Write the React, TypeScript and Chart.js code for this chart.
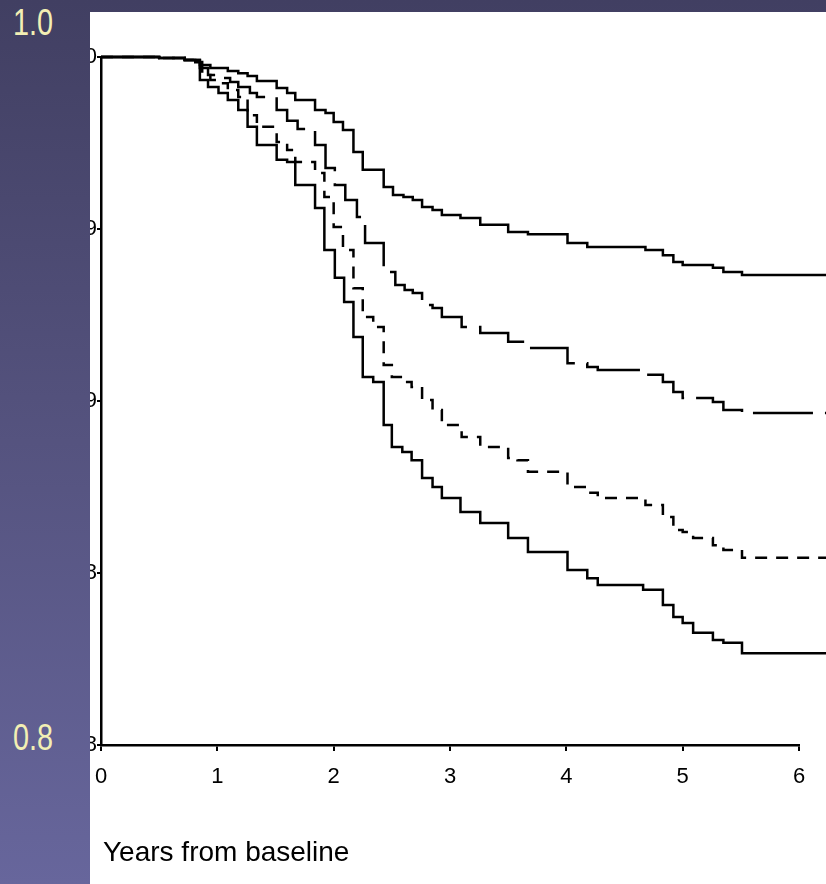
import React, { useEffect, useRef } from "react";
import { Chart, registerables } from "chart.js";

Chart.register(...registerables);

// ---- data (years from baseline, survival proportion) ----
const curve1Years = [0, 0.5, 0.72, 0.81, 0.85, 0.94, 1.09, 1.18, 1.26, 1.34, 1.51, 1.6, 1.67, 1.84, 1.93, 2.0, 2.08, 2.17, 2.25, 2.43, 2.51, 2.6, 2.68, 2.76, 2.85, 2.93, 3.09, 3.26, 3.5, 3.67, 4.01, 4.18, 4.68, 4.83, 4.92, 5.0, 5.26, 5.35, 5.51, 6.3];
const curve1Survival = [1, 0.9997, 0.9991, 0.9985, 0.9977, 0.9968, 0.9959, 0.9953, 0.9945, 0.993, 0.991, 0.9895, 0.9875, 0.9846, 0.9837, 0.9811, 0.9788, 0.9724, 0.9672, 0.9622, 0.9599, 0.9593, 0.9584, 0.9564, 0.9555, 0.9541, 0.9532, 0.9512, 0.9491, 0.9485, 0.9459, 0.9448, 0.9439, 0.9424, 0.9404, 0.9395, 0.9387, 0.9375, 0.9366, 0.9366];

const curve2Years = [0, 0.5, 0.72, 0.85, 0.92, 1.04, 1.11, 1.18, 1.28, 1.34, 1.51, 1.6, 1.69, 1.84, 1.93, 2.01, 2.1, 2.2, 2.27, 2.43, 2.53, 2.61, 2.68, 2.76, 2.85, 2.93, 3.1, 3.26, 3.5, 3.67, 4.01, 4.18, 4.27, 4.68, 4.83, 4.92, 5.0, 5.26, 5.35, 5.51, 6.3];
const curve2Survival = [1, 0.9997, 0.9991, 0.9968, 0.9948, 0.9939, 0.9927, 0.9913, 0.9895, 0.9884, 0.9846, 0.9815, 0.9791, 0.9744, 0.9677, 0.9628, 0.9584, 0.9535, 0.9459, 0.9375, 0.9337, 0.9323, 0.9314, 0.9279, 0.927, 0.9244, 0.9215, 0.9198, 0.9172, 0.9154, 0.911, 0.9099, 0.909, 0.9076, 0.9055, 0.9026, 0.9009, 0.8997, 0.8974, 0.8965, 0.8965];

const curve3Years = [0, 0.5, 0.72, 0.87, 0.94, 1.02, 1.09, 1.18, 1.26, 1.34, 1.51, 1.6, 1.67, 1.84, 1.92, 2.0, 2.08, 2.17, 2.25, 2.34, 2.43, 2.5, 2.59, 2.67, 2.76, 2.85, 2.93, 3.1, 3.26, 3.5, 3.58, 3.67, 4.01, 4.18, 4.27, 4.68, 4.83, 4.92, 5.0, 5.09, 5.26, 5.35, 5.51, 6.3];
const curve3Survival = [1, 0.9997, 0.9991, 0.9948, 0.9933, 0.9924, 0.9904, 0.9884, 0.9831, 0.9797, 0.9753, 0.973, 0.9695, 0.9663, 0.9593, 0.9506, 0.9439, 0.9328, 0.9244, 0.9215, 0.9105, 0.907, 0.9055, 0.9041, 0.9003, 0.8974, 0.893, 0.8895, 0.8866, 0.8834, 0.8828, 0.8794, 0.875, 0.8733, 0.8718, 0.8698, 0.8663, 0.8625, 0.8619, 0.8602, 0.8581, 0.8567, 0.8544, 0.8544];

const curve4Years = [0, 0.5, 0.72, 0.85, 0.92, 1.01, 1.09, 1.18, 1.26, 1.34, 1.51, 1.6, 1.67, 1.84, 1.92, 2.01, 2.09, 2.17, 2.25, 2.34, 2.43, 2.5, 2.59, 2.67, 2.76, 2.85, 2.93, 3.09, 3.26, 3.5, 3.67, 4.01, 4.18, 4.27, 4.66, 4.83, 4.92, 5.0, 5.09, 5.26, 5.35, 5.51, 6.3];
const curve4Survival = [1, 0.9997, 0.9991, 0.9933, 0.9913, 0.9895, 0.9875, 0.9846, 0.9797, 0.9744, 0.9701, 0.9695, 0.9628, 0.9561, 0.9439, 0.9358, 0.9288, 0.9186, 0.907, 0.9055, 0.893, 0.8866, 0.8852, 0.8828, 0.8776, 0.875, 0.8718, 0.8677, 0.8645, 0.8602, 0.8561, 0.8509, 0.8485, 0.8465, 0.8451, 0.8407, 0.8372, 0.8355, 0.8326, 0.8305, 0.8297, 0.8267, 0.8267];

const xTickLabels = ["0", "1", "2", "3", "4", "5", "6"];
const yTickLabels = ["0.8", "0.8", "0.9", "0.9", "1.0"];
const xAxisTitle = "Years from baseline";
const slideTopLabel = "1.0";
const slideBottomLabel = "0.8";

const toPoints = (xs: number[], ys: number[]) => xs.map((x, i) => ({ x, y: ys[i] }));

export default function App() {
  const canvasRef = useRef<HTMLCanvasElement | null>(null);

  useEffect(() => {
    if (!canvasRef.current) return;
    const common = {
      borderColor: "#000000",
      borderWidth: 2.5,
      pointRadius: 0,
      stepped: true as const,
      fill: false,
      clip: false as any,
      borderCapStyle: "butt" as const,
    };
    const chart = new Chart(canvasRef.current, {
      type: "line",
      data: {
        datasets: [
          { ...common, label: "Group 1", data: toPoints(curve1Years, curve1Survival) },
          { ...common, label: "Group 2", data: toPoints(curve2Years, curve2Survival), borderDash: [60, 12] },
          { ...common, label: "Group 3", data: toPoints(curve3Years, curve3Survival), borderDash: [12, 9] },
          { ...common, label: "Group 4", data: toPoints(curve4Years, curve4Survival) },
        ],
      },
      options: {
        animation: false,
        responsive: false,
        maintainAspectRatio: false,
        layout: { padding: { top: 45, right: 27, left: 0, bottom: 0 } },
        plugins: { legend: { display: false }, tooltip: { enabled: false } },
        scales: {
          x: {
            type: "linear",
            min: 0,
            max: 6,
            afterFit: (s: any) => {
              s.height = 139;
              s.paddingLeft = 0;
              s.paddingRight = 0;
            },
            ticks: {
              stepSize: 1,
              padding: 13,
              color: "#000",
              font: { family: "'Liberation Sans', Arial, sans-serif", size: 22 },
              callback: (v: any) => xTickLabels[Math.round(Number(v))] ?? "",
            },
            grid: { display: true, drawOnChartArea: false, drawTicks: true, tickLength: 6, color: "#000", lineWidth: 2 },
            border: { display: true, color: "#000", width: 2.5 },
          },
          y: {
            type: "linear",
            min: 0.8,
            max: 1.0,
            afterFit: (s: any) => {
              s.width = 11;
              s.paddingTop = 0;
              s.paddingBottom = 0;
            },
            ticks: {
              stepSize: 0.05,
              padding: 0,
              color: "#000",
              font: { family: "'Liberation Sans', Arial, sans-serif", size: 22 },
              callback: (_v: any, i: number) => yTickLabels[i] ?? "",
            },
            grid: { display: true, drawOnChartArea: false, drawTicks: true, tickLength: 4, color: "#000", lineWidth: 2 },
            border: { display: true, color: "#000", width: 2.5 },
          },
        },
      },
    });
    return () => chart.destroy();
  }, []);

  const slideLabel: React.CSSProperties = {
    position: "absolute",
    right: 826 - 53,
    fontFamily: "'Liberation Sans', Arial, sans-serif",
    fontSize: 36,
    lineHeight: "44px",
    color: "#f3efb4",
    transform: "scaleX(0.8)",
    transformOrigin: "right center",
    whiteSpace: "nowrap",
  };

  return (
    <div
      style={{
        position: "absolute",
        left: 0,
        top: 0,
        width: 826,
        height: 884,
        overflow: "hidden",
        background: "linear-gradient(to bottom, #413f62 0%, #55537f 50%, #67669c 100%)",
        fontFamily: "'Liberation Sans', Arial, sans-serif",
      }}
    >
      <div style={{ position: "absolute", left: 90, top: 12, width: 736, height: 872, background: "#ffffff", overflow: "hidden" }}>
        <canvas ref={canvasRef} width={736} height={872} style={{ position: "absolute", left: 0, top: 0, width: 736, height: 872 }} />
        <div style={{ position: "absolute", left: 13, top: 822, fontSize: 28, color: "#000", lineHeight: "36px", whiteSpace: "nowrap" }}>
          {xAxisTitle}
        </div>
      </div>
      <div style={{ ...slideLabel, top: 1 }}>{slideTopLabel}</div>
      <div style={{ ...slideLabel, top: 716 }}>{slideBottomLabel}</div>
    </div>
  );
}
